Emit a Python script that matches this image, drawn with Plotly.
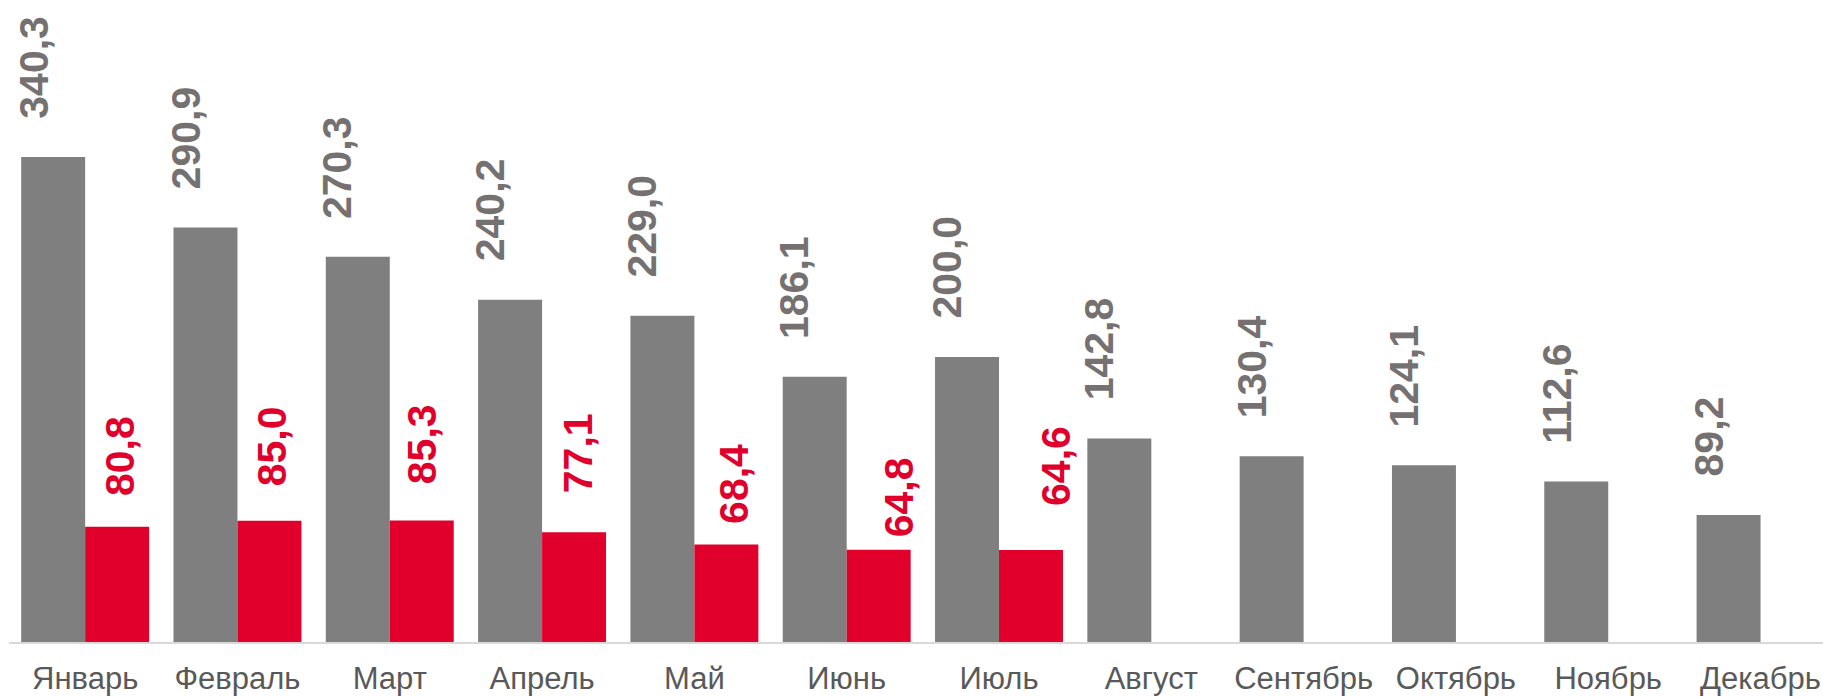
import plotly.graph_objects as go

months = ["Январь", "Февраль", "Март", "Апрель", "Май", "Июнь", "Июль",
          "Август", "Сентябрь", "Октябрь", "Ноябрь", "Декабрь"]
gray_values = [340.3, 290.9, 270.3, 240.2, 229.0, 186.1, 200.0,
               142.8, 130.4, 124.1, 112.6, 89.2]
red_values = [80.8, 85.0, 85.3, 77.1, 68.4, 64.8, 64.6,
              None, None, None, None, None]

# label nudges (pixels) for the red series labels, as placed in the original
red_label_dx = [3, 2, 1, 4, 7, 20, 25]
red_label_gap = [34, 38, 39, 42, 24, 15, 47]

GRAY = "#7F7F7F"
RED = "#E0002B"
GRAY_TEXT = "#767171"
FONT = "Liberation Sans, Arial, sans-serif"


def fmt(v):
    return f"{v:.1f}".replace(".", ",")


fig = go.Figure()
fig.add_trace(go.Bar(x=months, y=gray_values, marker=dict(color=GRAY, line=dict(width=0)),
                     name="gray"))
fig.add_trace(go.Bar(x=months, y=red_values, marker=dict(color=RED, line=dict(width=0)),
                     name="red"))

annotations = []
for m, v in zip(months, gray_values):
    annotations.append(dict(
        x=m, y=v, xref="x", yref="y", text=fmt(v), showarrow=False,
        textangle=-90, xanchor="center", yanchor="bottom",
        xshift=-52, yshift=36,
        font=dict(family=FONT, size=41, color=GRAY_TEXT, weight="bold"),
    ))
for i, (m, v) in enumerate(zip(months, red_values)):
    if v is None:
        continue
    annotations.append(dict(
        x=m, y=v, xref="x", yref="y", text=fmt(v), showarrow=False,
        textangle=-90, xanchor="center", yanchor="bottom",
        xshift=32 + red_label_dx[i], yshift=red_label_gap[i] - 5,
        font=dict(family=FONT, size=41, color=RED, weight="bold"),
    ))

fig.update_layout(
    width=1823, height=697,
    margin=dict(l=9, r=0, t=0, b=55),
    paper_bgcolor="white", plot_bgcolor="white",
    barmode="group", bargap=0.16, bargroupgap=0,
    showlegend=False,
    annotations=annotations,
    xaxis=dict(
        type="category", range=[-0.5, 11.41], automargin=False,
        showline=True, linecolor="#D9D9D9", linewidth=1.5,
        showgrid=False, zeroline=False, ticks="",
        ticklabelstandoff=8,
        tickfont=dict(family=FONT, size=31, color="#595959"),
    ),
    yaxis=dict(
        range=[0, 450.5], visible=False, showgrid=False, zeroline=False,
        automargin=False,
    ),
)

fig.write_html(
    "out.html",
    config={"displayModeBar": False},
    post_script="document.body.style.margin='0';document.body.style.overflow='hidden';",
)
